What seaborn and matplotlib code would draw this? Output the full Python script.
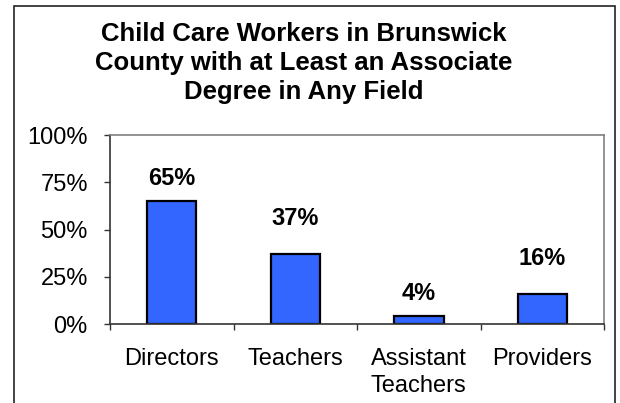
import matplotlib
matplotlib.use("Agg")
import matplotlib.pyplot as plt
import seaborn as sns
import pandas as pd
from matplotlib.patches import Rectangle
from matplotlib.ticker import FixedLocator, PercentFormatter

# chart data
categories = ["Directors", "Teachers", "Assistant\nTeachers", "Providers"]
pct_values = [65, 37, 4, 16]
y_ticks = [0, 25, 50, 75, 100]
title = "Child Care Workers in Brunswick\nCounty with at Least an Associate\nDegree in Any Field"

sns.set_style("white")
plt.rcParams['font.family'] = ['Liberation Sans', 'DejaVu Sans']
plt.rcParams.update({'text.color': 'black', 'xtick.color': 'black',
                     'ytick.color': 'black', 'axes.labelcolor': 'black'})

df = pd.DataFrame({'group': categories, 'pct': pct_values})

fig = plt.figure(figsize=(6.2, 4.03), dpi=100)
ax = fig.add_axes([0.1774, 0.196, 0.797, 0.469])

sns.barplot(data=df, x='group', y='pct', color='#3366FF', saturation=1,
            width=0.4, edgecolor='black', linewidth=1.6, ax=ax)

ax.set_ylim(0, 100)
ax.set_xlim(-0.5, len(categories) - 0.5)
ax.yaxis.set_major_locator(FixedLocator(y_ticks))
ax.yaxis.set_major_formatter(PercentFormatter(decimals=0))
ax.set_xlabel('')
ax.set_ylabel('')

# frame: gray top/right, dark left/bottom
for side in ['top', 'right']:
    ax.spines[side].set_color('#808080')
    ax.spines[side].set_linewidth(1.2)
for side in ['left', 'bottom']:
    ax.spines[side].set_color('#333333')
    ax.spines[side].set_linewidth(1.2)

ax.tick_params(axis='y', direction='out', length=4, width=1, color='#333333',
               left=True, pad=12, labelsize=17)
ax.tick_params(axis='x', which='major', length=0, pad=17, labelsize=17)
ax.set_xticks([i - 0.5 for i in range(len(categories) + 1)], minor=True)
ax.tick_params(axis='x', which='minor', direction='out', length=4, width=1,
               color='#333333', bottom=True)
for lbl in ax.get_xticklabels():
    lbl.set_va('top')
    lbl.set_linespacing(1.3)

# value labels, positioned above each bar
label_offsets = [8, 17, 8, 17]
for i, (v, off) in enumerate(zip(pct_values, label_offsets)):
    ax.annotate(f"{v}%", (i, v), xytext=(0, off), textcoords='offset points',
                ha='center', va='bottom', fontsize=17, fontweight='bold')

fig.text(304 / 620, 1 - 63 / 403, title, ha='center', va='center',
         fontsize=18.5, fontweight='bold', linespacing=1.25)

# outer chart border (bottom edge runs off the image)
fig.patches.append(Rectangle((14 / 620, -0.05), 601 / 620, 1.05 - 6 / 403,
                             transform=fig.transFigure, fill=False,
                             edgecolor='#222222', linewidth=1.2))

fig.savefig('out.png', dpi=100)
